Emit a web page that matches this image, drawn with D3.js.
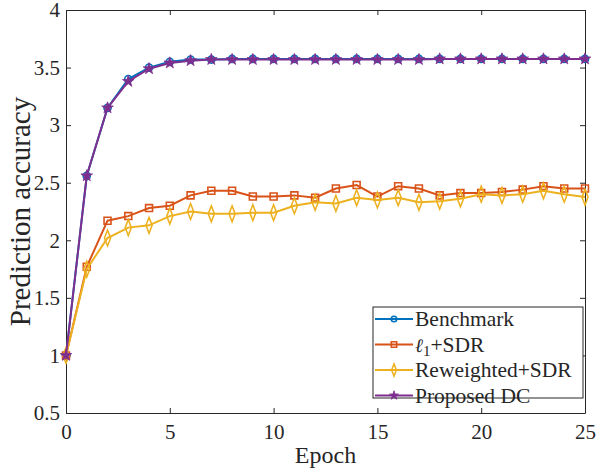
<!DOCTYPE html>
<html>
<head>
<meta charset="utf-8">
<script src="https://cdn.jsdelivr.net/npm/d3@7"></script>
<style>
  body { margin: 0; background: #fff; }
  text { font-family: "Liberation Serif", "Times New Roman", serif; fill: #262626; }
</style>
</head>
<body>
<div id="container"></div>
<script>
// chart values
const epochs = d3.range(0, 26);
const benchmark = [1.00, 2.56, 3.15, 3.40, 3.50, 3.55, 3.57, 3.57, 3.575, 3.575, 3.575, 3.575, 3.575, 3.575, 3.575, 3.575, 3.575, 3.575, 3.575, 3.575, 3.575, 3.575, 3.575, 3.575, 3.575, 3.575];
const l1Sdr = [1.00, 1.77, 2.17, 2.21, 2.28, 2.30, 2.39, 2.43, 2.43, 2.38, 2.38, 2.39, 2.37, 2.45, 2.48, 2.38, 2.47, 2.45, 2.39, 2.41, 2.41, 2.42, 2.44, 2.47, 2.45, 2.45];
const reweighted = [1.00, 1.75, 2.02, 2.11, 2.13, 2.21, 2.25, 2.23, 2.23, 2.24, 2.24, 2.30, 2.33, 2.32, 2.37, 2.35, 2.37, 2.33, 2.34, 2.36, 2.40, 2.39, 2.40, 2.43, 2.40, 2.375];
const proposed = [1.00, 2.56, 3.15, 3.38, 3.49, 3.54, 3.56, 3.57, 3.57, 3.57, 3.57, 3.57, 3.57, 3.57, 3.57, 3.57, 3.57, 3.57, 3.575, 3.575, 3.575, 3.575, 3.575, 3.575, 3.575, 3.575];
const seriesNames = ["Benchmark", "l1+SDR", "Reweighted+SDR", "Proposed DC"];
const xTicks = [0, 5, 10, 15, 20, 25];
const yTicks = [0.5, 1, 1.5, 2, 2.5, 3, 3.5, 4];

const width = 596, height = 475;
const margin = {left: 66, right: 11, top: 10, bottom: 62};
const colors = ["#0072BD", "#D95319", "#EDB120", "#7E2F8E"];
const symbols = [d3.symbolCircle, d3.symbolSquare, d3.symbolDiamond, d3.symbolStar];
const symSizes = [40, 48, 40, 42];
const symScale = ["", "", " scale(0.9,1.35)", ""];

const svg = d3.select("#container")
    .append("svg")
    .attr("width", width)
    .attr("height", height);

const x = d3.scaleLinear().domain([0, 25]).range([margin.left, width - margin.right]);
const y = d3.scaleLinear().domain([0.5, 4]).range([height - margin.bottom, margin.top]);

// axes (MATLAB style: ticks inside, box on)
const tickLen = 5;
svg.append("g")
    .attr("transform", `translate(0,${y(0.5)})`)
    .call(d3.axisBottom(x).tickValues(xTicks).tickSizeInner(-tickLen).tickSizeOuter(0).tickPadding(10))
    .call(g => g.selectAll("text").attr("font-size", 21).attr("dy", "0.75em"));
svg.append("g")
    .attr("transform", `translate(${x(0)},0)`)
    .call(d3.axisLeft(y).tickValues(yTicks).tickFormat(d3.format("")).tickSizeInner(-tickLen).tickSizeOuter(0).tickPadding(6))
    .call(g => g.selectAll("text").attr("font-size", 21));
svg.append("g")
    .attr("transform", `translate(0,${y(4)})`)
    .call(d3.axisTop(x).tickValues(xTicks).tickSizeInner(-tickLen).tickSizeOuter(0).tickFormat(""));
svg.append("g")
    .attr("transform", `translate(${x(25)},0)`)
    .call(d3.axisRight(y).tickValues(yTicks).tickSizeInner(-tickLen).tickSizeOuter(0).tickFormat(""));
svg.selectAll(".domain, .tick line").attr("stroke", "#262626").attr("stroke-width", 1);
svg.selectAll(".tick text").attr("fill", "#262626").attr("font-family", "Liberation Serif");

// axis labels
svg.append("text")
    .attr("x", (x(0) + x(25)) / 2)
    .attr("y", 463)
    .attr("text-anchor", "middle")
    .attr("font-size", 24)
    .text("Epoch");
svg.append("text")
    .attr("transform", `translate(30,${(y(0.5) + y(4)) / 2}) rotate(-90)`)
    .attr("text-anchor", "middle")
    .attr("font-size", 29)
    .text("Prediction accuracy");

// lines and markers
const allSeries = [benchmark, l1Sdr, reweighted, proposed];
const line = d3.line().x((d, i) => x(epochs[i])).y(d => y(d));

allSeries.forEach((vals, k) => {
    const g = svg.append("g");
    g.append("path")
        .attr("d", line(vals))
        .attr("fill", "none")
        .attr("stroke", colors[k])
        .attr("stroke-width", 2);
    g.selectAll("path.mk")
        .data(vals)
        .enter()
        .append("path")
        .attr("class", "mk")
        .attr("transform", (d, i) => `translate(${x(epochs[i])},${y(d)})` + symScale[k])
        .attr("d", d3.symbol().type(symbols[k]).size(symSizes[k]))
        .attr("fill", k === 3 ? colors[k] : "none")
        .attr("stroke", colors[k])
        .attr("stroke-width", k === 3 ? 0.8 : 1.6);
});

// legend
const lg = svg.append("g").attr("transform", "translate(373,307)");
lg.append("rect")
    .attr("width", 210)
    .attr("height", 91)
    .attr("fill", "#fff")
    .attr("stroke", "#262626")
    .attr("stroke-width", 1);
seriesNames.forEach((name, k) => {
    const ry = 12 + k * 25.5;
    lg.append("line")
        .attr("x1", 2).attr("x2", 40)
        .attr("y1", ry).attr("y2", ry)
        .attr("stroke", colors[k])
        .attr("stroke-width", 2);
    lg.append("path")
        .attr("transform", `translate(21,${ry})` + symScale[k])
        .attr("d", d3.symbol().type(symbols[k]).size(symSizes[k] * 0.6))
        .attr("fill", k === 3 ? colors[k] : "none")
        .attr("stroke", colors[k])
        .attr("stroke-width", k === 3 ? 0.8 : 1.6);
    const t = lg.append("text")
        .attr("x", 42)
        .attr("y", ry + 7)
        .attr("font-size", 21.5);
    if (k === 1) {
        t.append("tspan").attr("font-family", "DejaVu Serif").attr("font-style", "italic").attr("font-size", 19).text("\u2113");
        t.append("tspan").attr("font-size", 15).attr("dy", 4).text("1");
        t.append("tspan").attr("dy", -4).text("+SDR");
    } else {
        t.text(name);
    }
});
</script>
</body>
</html>
